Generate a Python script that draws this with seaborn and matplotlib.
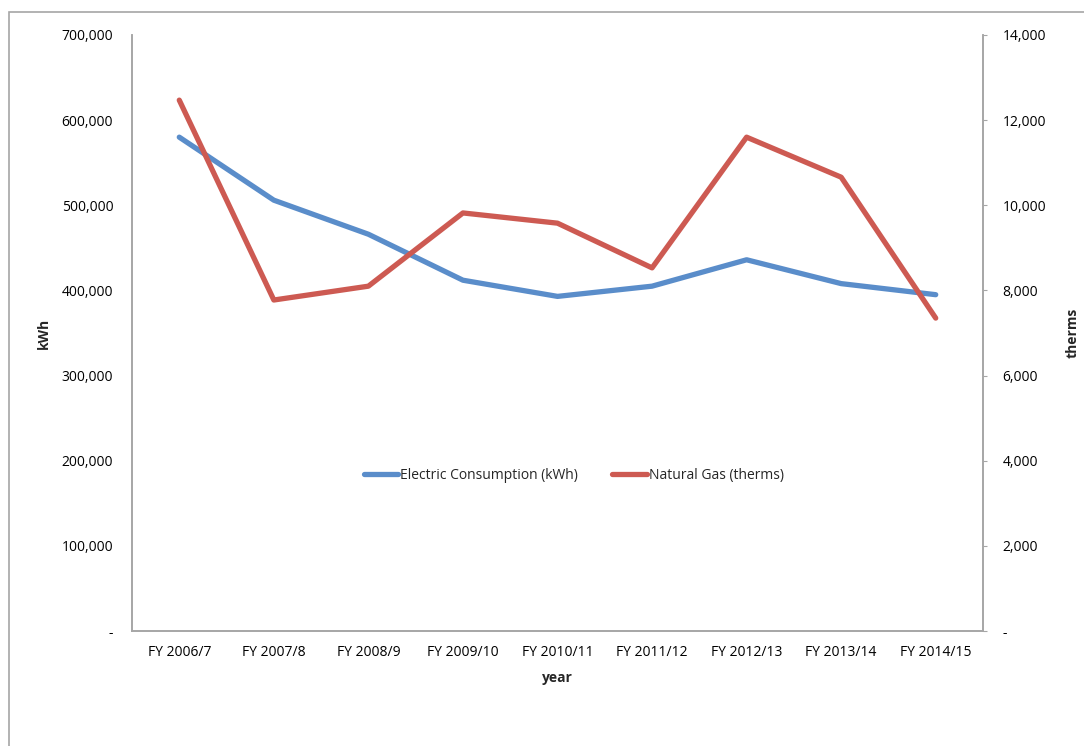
import matplotlib
matplotlib.use("Agg")
import matplotlib.pyplot as plt
import matplotlib.ticker as mticker
from matplotlib.patches import Rectangle
import pandas as pd
import seaborn as sns

# Chart data
years = ["FY 2006/7", "FY 2007/8", "FY 2008/9", "FY 2009/10", "FY 2010/11",
         "FY 2011/12", "FY 2012/13", "FY 2013/14", "FY 2014/15"]
electric_kwh = [580000, 506000, 466000, 412000, 393000, 405000, 436000, 408000, 395000]
gas_therms = [12470, 7775, 8100, 9820, 9580, 8530, 11600, 10660, 7350]

df = pd.DataFrame({"year": years, "kwh": electric_kwh, "therms": gas_therms})
df["pos"] = range(len(df))

sns.set_style("white")
plt.rcParams["font.family"] = ["Open Sans", "DejaVu Sans"]

blue = "#5A8DCA"
red = "#CD5A52"
grey = "#A6A6A6"

fig = plt.figure(figsize=(10.84, 7.46), dpi=100)
ax = fig.add_axes([132 / 1084, 115 / 746, 851 / 1084, 596 / 746])
ax2 = ax.twinx()

sns.lineplot(data=df, x="pos", y="kwh", ax=ax, color=blue, linewidth=3.8,
             label="Electric Consumption (kWh)", legend=False)
sns.lineplot(data=df, x="pos", y="therms", ax=ax2, color=red, linewidth=3.8,
             label="Natural Gas (therms)", legend=False)

ax.set_xlim(-0.5, len(years) - 0.5)
ax.set_ylim(0, 700000)
ax2.set_ylim(0, 14000)
ax.set_xticks(df["pos"])
ax.set_xticklabels(years)

def fmt(v, _):
    return "-" if v == 0 else f"{v:,.0f}"

ax.yaxis.set_major_locator(mticker.MultipleLocator(100000))
ax2.yaxis.set_major_locator(mticker.MultipleLocator(2000))
ax.yaxis.set_major_formatter(mticker.FuncFormatter(fmt))
ax2.yaxis.set_major_formatter(mticker.FuncFormatter(fmt))

for a in (ax, ax2):
    for s in a.spines.values():
        s.set_color(grey)
        s.set_linewidth(1.2)
    a.spines["top"].set_visible(False)
    a.tick_params(labelsize=10, colors="black")

ax.tick_params(axis="y", length=0, pad=13.5)
ax.tick_params(axis="x", length=0, pad=10)
ax2.tick_params(axis="y", length=3, color=grey, pad=11)

ax.set_xlabel("year", fontsize=10, fontweight="bold", labelpad=8)
ax.set_ylabel("kWh", fontsize=10, fontweight="bold", labelpad=8)
ax2.set_ylabel("therms", fontsize=10, fontweight="bold", labelpad=14)

h1, l1 = ax.get_legend_handles_labels()
h2, l2 = ax2.get_legend_handles_labels()
ax.legend(h1 + h2, l1 + l2, loc="center", bbox_to_anchor=(0.519, 0.261), ncol=2,
          frameon=False, fontsize=10, handlelength=2.5, handletextpad=0.1,
          columnspacing=2.5)

# outer chart frame
fig.patches.append(Rectangle((9 / 1084, -0.1), 1.2, 1.1 - 12 / 746,
                             transform=fig.transFigure, fill=False,
                             edgecolor=grey, linewidth=1.2))

fig.savefig("out.png", dpi=100)
